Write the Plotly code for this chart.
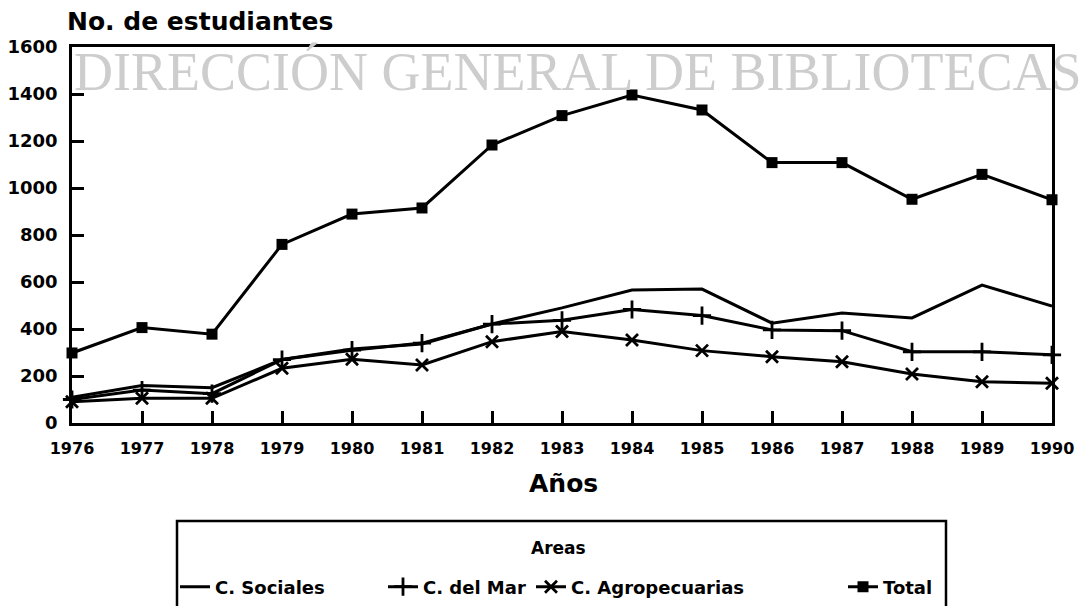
import plotly.graph_objects as go

years = list(range(1976, 1991))
c_sociales = [110, 160, 150, 270, 315, 336, 421, 490, 566, 570, 425, 468, 447, 587, 498]
c_del_mar = [100, 140, 125, 270, 310, 340, 421, 437, 483, 457, 396, 393, 303, 303, 290]
c_agropecuarias = [90, 105, 105, 233, 271, 247, 346, 389, 353, 308, 282, 261, 209, 176, 169]
total = [298, 406, 378, 760, 889, 915, 1183, 1308, 1396, 1332, 1108, 1108, 952, 1058, 950]

y_ticks = [0, 200, 400, 600, 800, 1000, 1200, 1400, 1600]

W, H = 1080, 606
L, R, T, B = 72, 28, 47, 183
PW, PH = W - L - R, H - T - B


def px(x):
    return (x - L) / PW


def py(y):
    return (H - B - y) / PH


FONT = "DejaVu Sans"
fig = go.Figure()

series = [
    ("C. Sociales", c_sociales, dict(symbol="circle", size=1, opacity=0), "lines", "legend"),
    ("C. del Mar", c_del_mar, dict(symbol="cross-thin", size=13, line=dict(width=2.8, color="black")), "lines+markers", "legend2"),
    ("C. Agropecuarias", c_agropecuarias, dict(symbol="x-thin", size=12, line=dict(width=2.8, color="black")), "lines+markers", "legend3"),
    ("Total", total, dict(symbol="square", size=11, color="black"), "lines+markers", "legend4"),
]
for name, vals, mk, mode, lg in series:
    fig.add_trace(go.Scatter(
        x=years, y=vals, name=name, mode=mode,
        line=dict(color="black", width=3),
        marker=mk, legend=lg, cliponaxis=False,
    ))

leg_common = dict(orientation="h", yanchor="middle", xanchor="left",
                  bgcolor="rgba(0,0,0,0)", borderwidth=0,
                  font=dict(family=FONT, size=18, color="black", weight="bold"))
leg_x = [175, 383, 531, 843]
fig.update_layout(
    legend=dict(x=px(leg_x[0]), y=py(587), **leg_common),
    legend2=dict(x=px(leg_x[1]), y=py(587), **leg_common),
    legend3=dict(x=px(leg_x[2]), y=py(587), **leg_common),
    legend4=dict(x=px(leg_x[3]), y=py(587), **leg_common),
)

fig.update_layout(
    width=W, height=H,
    margin=dict(l=L, r=R, t=T, b=B, autoexpand=False),
    paper_bgcolor="white", plot_bgcolor="white",
    showlegend=True,
    title=dict(text="No. de estudiantes", xref="container", yref="container",
               x=67 / W, xanchor="left", y=1 - 21 / H, yanchor="middle",
               font=dict(family=FONT, size=25, color="black", weight="bold")),
    xaxis=dict(range=[1976, 1990], tickmode="array", tickvals=years,
               ticktext=[str(y) for y in years], automargin=False,
               ticks="inside", ticklen=12, tickwidth=2.5, tickcolor="black",
               showline=True, linecolor="black", linewidth=2.5, mirror=True,
               showgrid=False, zeroline=False, ticklabelstandoff=9,
               tickfont=dict(family=FONT, size=16, color="black", weight="bold")),
    yaxis=dict(range=[0, 1600], tickmode="array", tickvals=y_ticks, automargin=False,
               ticks="inside", ticklen=12, tickwidth=2.5, tickcolor="black",
               showline=True, linecolor="black", linewidth=2.5, mirror=True,
               showgrid=False, zeroline=False, ticklabelstandoff=8,
               tickfont=dict(family=FONT, size=18, color="black", weight="bold")),
)

# x axis title
fig.add_annotation(text="Años", xref="paper", yref="paper", x=px(563), y=py(484),
                   showarrow=False, xanchor="center", yanchor="middle",
                   font=dict(family=FONT, size=25, color="black", weight="bold"))

# legend frame and title
fig.add_shape(type="rect", xref="paper", yref="paper",
              x0=px(177), x1=px(946), y0=py(521), y1=py(615),
              line=dict(color="black", width=2.5), fillcolor="rgba(0,0,0,0)")
fig.add_annotation(text="Areas", xref="paper", yref="paper", x=px(558), y=py(548),
                   showarrow=False, xanchor="center", yanchor="middle",
                   font=dict(family=FONT, size=17, color="black", weight="bold"))

# library watermark
fig.add_annotation(text="DIRECCIÓN GENERAL DE BIBLIOTECAS", xref="paper", yref="paper",
                   x=px(577), y=py(72), showarrow=False, xanchor="center", yanchor="middle",
                   font=dict(family="Liberation Serif", size=54, color="#cdcdcd"))

fig.write_html("out.html",
               config={"displayModeBar": False},
               post_script="document.body.style.margin='0';document.body.style.overflow='hidden';")
